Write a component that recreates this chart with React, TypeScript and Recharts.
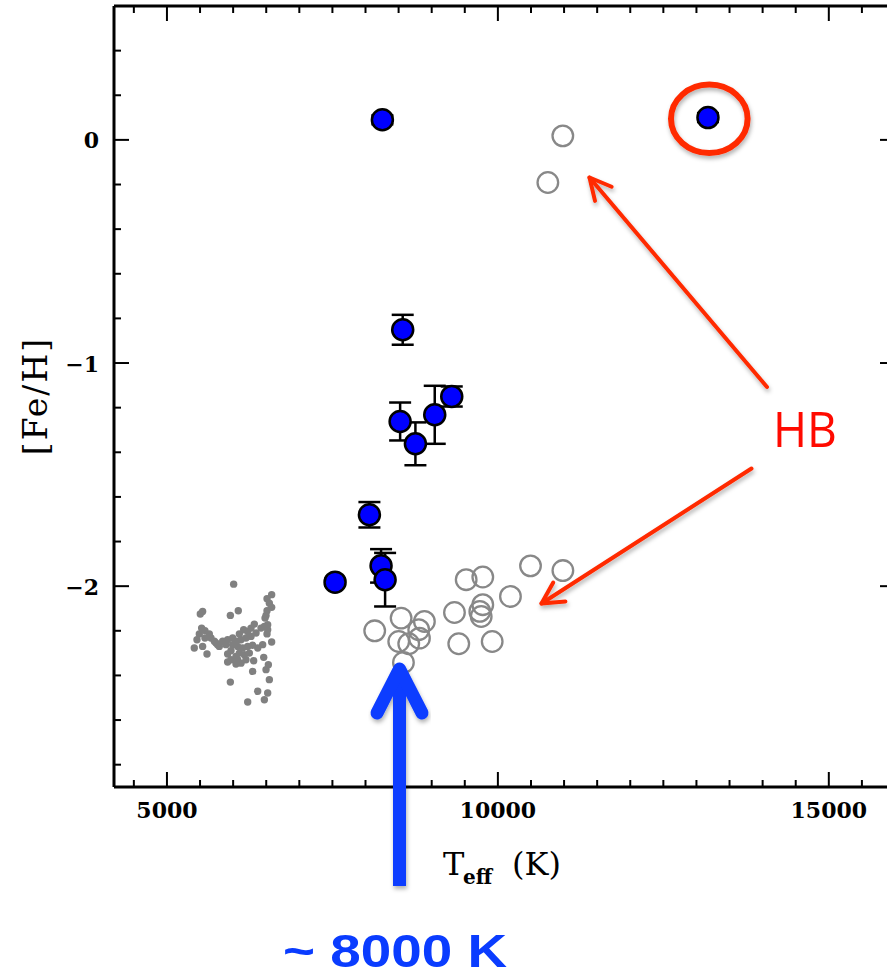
import React from 'react';
import { ScatterChart, Scatter, XAxis, YAxis, ErrorBar } from 'recharts';

// ---- axis ticks ----
const xTicks = [4500, 5000, 5500, 6000, 6500, 7000, 7500, 8000, 8500, 9000, 9500, 10000, 10500, 11000, 11500, 12000, 12500, 13000, 13500, 14000, 14500, 15000, 15500];
const xMajor = [5000, 10000, 15000];
const yTicks = [-2.8, -2.6, -2.4, -2.2, -2, -1.8, -1.6, -1.4, -1.2, -1, -0.8, -0.6, -0.4, -0.2, 0, 0.2, 0.4];
const yMajor = [-2, -1, 0];

// ---- sample stars (blue, with error bars) ----
const sampleTeff = [8255, 8562, 8523, 8754, 9046, 9303, 8059, 8235, 8296, 7540, 13174];
const sampleFeH = [0.09, -0.851, -1.262, -1.362, -1.232, -1.15, -1.68, -1.909, -1.971, -1.982, 0.1];
const sampleErr = [0.02, 0.067, 0.085, 0.096, 0.13, 0.045, 0.057, 0.075, 0.12, 0.015, 0.02];

// ---- HB stars (open grey circles) ----
const hbTeff = [10981, 10755, 9521, 9772, 10493, 10982, 10190, 9344, 9772, 9727, 9748, 9409, 9914, 8538, 8139, 8890, 8804, 8815, 8502, 8653, 8573];
const hbFeH = [0.018, -0.191, -1.971, -1.959, -1.909, -1.93, -2.046, -2.118, -2.083, -2.113, -2.136, -2.258, -2.248, -2.143, -2.2, -2.158, -2.195, -2.233, -2.248, -2.258, -2.342];

// ---- cool stars (small grey dots) ----
const coolTeff = [6008, 6582, 6512, 6547, 6582, 6512, 6497, 6482, 5539, 5504, 6078, 5958, 6320, 6270, 6220, 6159, 6094, 6472, 6522, 6512, 5524, 5574, 5640, 5489, 5454, 5574, 5665, 5741, 5791, 5842, 5917, 5993, 6043, 6119, 6194, 6270, 5993, 6068, 6144, 6220, 6295, 6371, 6446, 6582, 5413, 5539, 5605, 5917, 5968, 6043, 6094, 6169, 6245, 6194, 6119, 6043, 5917, 6310, 6462, 6532, 6497, 6295, 6547, 5958, 6371, 6522, 6472, 6220, 5766, 5716, 6346, 6421, 6522, 5892, 5968, 6068];
const coolFeH = [-1.991, -2.038, -2.056, -2.076, -2.095, -2.11, -2.131, -2.143, -2.113, -2.125, -2.11, -2.131, -2.17, -2.188, -2.203, -2.195, -2.214, -2.18, -2.195, -2.214, -2.188, -2.199, -2.214, -2.214, -2.24, -2.232, -2.232, -2.255, -2.27, -2.247, -2.24, -2.232, -2.247, -2.24, -2.232, -2.225, -2.262, -2.27, -2.277, -2.27, -2.265, -2.277, -2.262, -2.25, -2.277, -2.27, -2.304, -2.304, -2.289, -2.315, -2.3, -2.307, -2.3, -2.33, -2.345, -2.349, -2.34, -2.334, -2.319, -2.352, -2.374, -2.382, -2.419, -2.43, -2.471, -2.479, -2.509, -2.519, -2.262, -2.247, -2.21, -2.188, -2.173, -2.262, -2.33, -2.33];

const sampleData = sampleTeff.map((t, i) => ({ teff: t, feh: sampleFeH[i], err: sampleErr[i] }));
const hbData = hbTeff.map((t, i) => ({ teff: t, feh: hbFeH[i] }));
const coolData = coolTeff.map((t, i) => ({ teff: t, feh: coolFeH[i] }));

const TICK_FONT = '"DejaVu Serif", serif';

const fmtY = (v: number) => (v < 0 ? '\u2212' + Math.abs(v) : String(v));

const BottomTick = (p: any) => {
  const major = xMajor.includes(p.payload.value);
  return (
    <g>
      <line x1={p.x} x2={p.x} y1={p.y} y2={p.y - (major ? 15 : 7)} stroke="#000" strokeWidth={2} />
      {major && (
        <text x={p.x} y={p.y + 30.5} textAnchor="middle" fontFamily={TICK_FONT} fontWeight="bold" fontSize={22} fill="#000">
          {p.payload.value}
        </text>
      )}
    </g>
  );
};
const TopTick = (p: any) => {
  const major = xMajor.includes(p.payload.value);
  return <line x1={p.x} x2={p.x} y1={p.y} y2={p.y + (major ? 15 : 7)} stroke="#000" strokeWidth={2} />;
};
const LeftTick = (p: any) => {
  const v = p.payload.value;
  const major = yMajor.some((m) => Math.abs(m - v) < 1e-6);
  return (
    <g>
      <line x1={p.x} x2={p.x + (major ? 15 : 7)} y1={p.y} y2={p.y} stroke="#000" strokeWidth={2} />
      {major && (
        <text x={p.x - 15} y={p.y + 8.5} textAnchor="end" fontFamily={TICK_FONT} fontWeight="bold" fontSize={22} fill="#000">
          {fmtY(Math.round(v))}
        </text>
      )}
    </g>
  );
};
const RightTick = (p: any) => {
  const v = p.payload.value;
  const major = yMajor.some((m) => Math.abs(m - v) < 1e-6);
  return <line x1={p.x} x2={p.x - (major ? 15 : 7)} y1={p.y} y2={p.y} stroke="#000" strokeWidth={2} />;
};

const BlueDot = (p: any) => <circle cx={p.cx} cy={p.cy} r={10.5} fill="#0000ff" stroke="#000" strokeWidth={2.5} />;
const HbDot = (p: any) => <circle cx={p.cx} cy={p.cy} r={10.3} fill="none" stroke="#888888" strokeWidth={2.3} />;
const CoolDot = (p: any) => <circle cx={p.cx} cy={p.cy} r={3.7} fill="#808080" />;

function arrowHead(tip: [number, number], tail: [number, number], len: number, ang: number) {
  const a = Math.atan2(tail[1] - tip[1], tail[0] - tip[0]);
  const r = (ang * Math.PI) / 180;
  const p1 = [tip[0] + len * Math.cos(a + r), tip[1] + len * Math.sin(a + r)];
  const p2 = [tip[0] + len * Math.cos(a - r), tip[1] + len * Math.sin(a - r)];
  return `M${p1[0]},${p1[1]} L${tip[0]},${tip[1]} L${p2[0]},${p2[1]}`;
}

const RED = '#ff2a00';
const BLUE = '#0a3cff';

export default function App() {
  const a1tip: [number, number] = [589.5, 177.5];
  const a1tail: [number, number] = [767, 387];
  const a2tip: [number, number] = [541.5, 603.5];
  const a2tail: [number, number] = [751.5, 468.5];
  return (
    <div style={{ position: 'absolute', left: 0, top: 0, width: 887, height: 979, overflow: 'hidden', background: '#fff' }}>
      <ScatterChart width={897} height={979} margin={{ top: 0, right: 0, bottom: 0, left: 0 }}>
        <XAxis
          xAxisId="b"
          dataKey="teff"
          type="number"
          domain={[4200, 16000]}
          ticks={xTicks}
          interval={0}
          allowDataOverflow
          height={192}
          tickSize={0}
          tickMargin={0}
          tickLine={false}
          axisLine={{ stroke: '#000', strokeWidth: 3 }}
          tick={<BottomTick />}
        />
        <XAxis
          xAxisId="t"
          orientation="top"
          dataKey="teff"
          type="number"
          domain={[4200, 16000]}
          ticks={xTicks}
          interval={0}
          allowDataOverflow
          height={6}
          tickSize={0}
          tickMargin={0}
          tickLine={false}
          axisLine={{ stroke: '#000', strokeWidth: 3 }}
          tick={<TopTick />}
        />
        <YAxis
          yAxisId="l"
          dataKey="feh"
          type="number"
          domain={[-2.9, 0.6]}
          ticks={yTicks}
          interval={0}
          allowDataOverflow
          width={114}
          tickSize={0}
          tickMargin={0}
          tickLine={false}
          axisLine={{ stroke: '#000', strokeWidth: 3 }}
          tick={<LeftTick />}
        />
        <YAxis
          yAxisId="r"
          orientation="right"
          dataKey="feh"
          type="number"
          domain={[-2.9, 0.6]}
          ticks={yTicks}
          interval={0}
          allowDataOverflow
          width={2}
          tickSize={0}
          tickMargin={0}
          tickLine={false}
          axisLine={{ stroke: '#000', strokeWidth: 3 }}
          tick={<RightTick />}
        />
        <Scatter xAxisId="b" yAxisId="l" data={coolData} shape={<CoolDot />} isAnimationActive={false} />
        <Scatter xAxisId="b" yAxisId="l" data={hbData} shape={<HbDot />} isAnimationActive={false} />
        <Scatter xAxisId="b" yAxisId="l" data={sampleData} shape={<BlueDot />} isAnimationActive={false}>
          <ErrorBar dataKey="err" direction="y" width={11} stroke="#000" strokeWidth={2.5} isAnimationActive={false} />
        </Scatter>
      </ScatterChart>

      <svg width={887} height={979} style={{ position: 'absolute', left: 0, top: 0, pointerEvents: 'none' }}>
        <defs>
          <filter id="sh" x="-20%" y="-20%" width="140%" height="140%">
            <feDropShadow dx="1" dy="3" stdDeviation="2" floodColor="#000" floodOpacity="0.3" />
          </filter>
        </defs>
        {/* axis titles */}
        <text x={443} y={875} fontFamily={TICK_FONT} fontSize={32} fill="#000">
          T
        </text>
        <text x={463} y={884} fontFamily={TICK_FONT} fontSize={20} fontWeight="bold" fill="#000">
          eff
        </text>
        <text x={512} y={875} fontFamily={TICK_FONT} fontSize={32} fill="#000">
          (K)
        </text>
        <text
          x={0}
          y={0}
          transform="translate(47,396) rotate(-90)"
          textAnchor="middle"
          fontFamily={TICK_FONT}
          fontSize={33}
          letterSpacing={2}
          fill="#000"
        >
          [Fe/H]
        </text>

        {/* red annotations */}
        <g filter="url(#sh)" stroke={RED} fill="none" strokeWidth={4} strokeLinecap="round" strokeLinejoin="round">
          <ellipse cx={709.3} cy={118.8} rx={38.3} ry={34.2} strokeWidth={6} />
          <line x1={a1tail[0]} y1={a1tail[1]} x2={a1tip[0]} y2={a1tip[1]} />
          <path d={arrowHead(a1tip, a1tail, 24, 27)} />
          <line x1={a2tail[0]} y1={a2tail[1]} x2={a2tip[0]} y2={a2tip[1]} />
          <path d={arrowHead(a2tip, a2tail, 24, 28)} />
        </g>
        <text x={773} y={447} fontFamily='"Open Sans", sans-serif' fontSize={50} fill="#ff0a00" textLength={64} lengthAdjust="spacingAndGlyphs">
          HB
        </text>

        {/* blue arrow */}
        <g filter="url(#sh)" stroke={BLUE} fill="none" strokeWidth={13}>
          <line x1={399.5} y1={886} x2={399.5} y2={676} />
          <path d="M377,713 L399.5,669 L422,713" strokeLinecap="round" strokeLinejoin="round" />
        </g>
        <text x={283} y={967} fontFamily='"Liberation Sans", Arial, sans-serif' fontWeight="bold" fontSize={46} fill={BLUE} textLength={224} lengthAdjust="spacingAndGlyphs">
          ~ 8000 K
        </text>
      </svg>
    </div>
  );
}
